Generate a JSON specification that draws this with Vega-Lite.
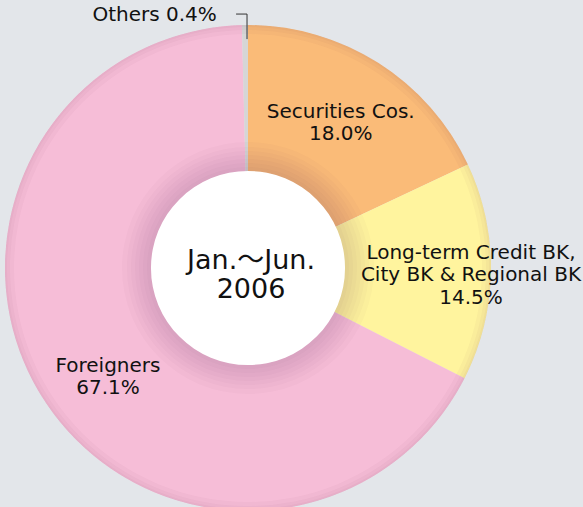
{
  "$schema": "https://vega.github.io/schema/vega-lite/v6.json",
  "width": 496,
  "height": 478,
  "autosize": {"type": "none"},
  "padding": {"left": 0, "top": 29, "right": 87, "bottom": 0},
  "background": "#e3e6ea",
  "config": {"view": {"stroke": null}, "text": {"font": "DejaVu Sans, Noto Sans CJK JP"}},
  "data": {
    "values": [
      {"group": "Securities Cos.", "share": 18.0, "ord": 1, "label": "Securities Cos.\n18.0%"},
      {"group": "Long-term Credit BK, City BK & Regional BK", "share": 14.5, "ord": 2, "label": "Long-term Credit BK,\nCity BK & Regional BK\n14.5%"},
      {"group": "Foreigners", "share": 67.1, "ord": 3, "label": "Foreigners\n67.1%"},
      {"group": "Others", "share": 0.4, "ord": 4, "label": "Others 0.4%"}
    ]
  },
  "layer": [
    {
      "mark": {"type": "arc", "outerRadius": 243, "innerRadius": 0},
      "encoding": {
        "theta": {"field": "share", "type": "quantitative", "stack": true},
        "order": {"field": "ord", "type": "quantitative"},
        "color": {
          "field": "group",
          "type": "nominal",
          "scale": {
            "domain": ["Securities Cos.", "Long-term Credit BK, City BK & Regional BK", "Foreigners", "Others"],
            "range": ["#fabb78", "#fff49e", "#f6bdd7", "#d6d6d6"]
          },
          "legend": null
        }
      }
    },
    {"transform": [{"filter": "datum.ord === 3"}], "mark": {"type": "arc", "theta": 0, "theta2": 6.2832, "outerRadius": 243, "innerRadius": 234, "color": "#6a2a4a", "opacity": 0.03}, "encoding": {}},
    {"transform": [{"filter": "datum.ord === 3"}], "mark": {"type": "arc", "theta": 0, "theta2": 6.2832, "outerRadius": 243, "innerRadius": 238, "color": "#6a2a4a", "opacity": 0.03}, "encoding": {}},
    {"transform": [{"filter": "datum.ord === 3"}], "mark": {"type": "arc", "theta": 0, "theta2": 6.2832, "outerRadius": 243, "innerRadius": 241, "color": "#6a2a4a", "opacity": 0.03}, "encoding": {}},
    {"transform": [{"filter": "datum.ord === 3"}], "mark": {"type": "arc", "theta": 0, "theta2": 6.2832, "outerRadius": 126, "innerRadius": 96, "color": "#6a2a4a", "opacity": 0.024}, "encoding": {}},
    {"transform": [{"filter": "datum.ord === 3"}], "mark": {"type": "arc", "theta": 0, "theta2": 6.2832, "outerRadius": 121, "innerRadius": 96, "color": "#6a2a4a", "opacity": 0.024}, "encoding": {}},
    {"transform": [{"filter": "datum.ord === 3"}], "mark": {"type": "arc", "theta": 0, "theta2": 6.2832, "outerRadius": 117, "innerRadius": 96, "color": "#6a2a4a", "opacity": 0.024}, "encoding": {}},
    {"transform": [{"filter": "datum.ord === 3"}], "mark": {"type": "arc", "theta": 0, "theta2": 6.2832, "outerRadius": 113, "innerRadius": 96, "color": "#6a2a4a", "opacity": 0.024}, "encoding": {}},
    {"transform": [{"filter": "datum.ord === 3"}], "mark": {"type": "arc", "theta": 0, "theta2": 6.2832, "outerRadius": 109, "innerRadius": 96, "color": "#6a2a4a", "opacity": 0.024}, "encoding": {}},
    {"transform": [{"filter": "datum.ord === 3"}], "mark": {"type": "arc", "theta": 0, "theta2": 6.2832, "outerRadius": 105, "innerRadius": 96, "color": "#6a2a4a", "opacity": 0.024}, "encoding": {}},
    {"transform": [{"filter": "datum.ord === 3"}], "mark": {"type": "arc", "theta": 0, "theta2": 6.2832, "outerRadius": 101, "innerRadius": 96, "color": "#6a2a4a", "opacity": 0.024}, "encoding": {}},
    {"transform": [{"filter": "datum.ord === 3"}], "mark": {"type": "arc", "theta": 0, "theta2": 6.2832, "outerRadius": 97, "innerRadius": 0, "color": "#ffffff"}, "encoding": {}},
    {
      "mark": {"type": "text", "radius": 173, "dy": -10, "fontSize": 20, "lineBreak": "\n", "lineHeight": 22, "color": "#111111"},
      "encoding": {
        "theta": {"field": "share", "type": "quantitative", "stack": true},
        "order": {"field": "ord", "type": "quantitative"},
        "text": {"condition": {"test": "datum.ord === 1", "field": "label"}, "value": ""}
      }
    },
    {
      "mark": {"type": "text", "radius": 223, "dy": -19, "fontSize": 20, "lineBreak": "\n", "lineHeight": 22.5, "color": "#111111"},
      "encoding": {
        "theta": {"field": "share", "type": "quantitative", "stack": true},
        "order": {"field": "ord", "type": "quantitative"},
        "text": {"condition": {"test": "datum.ord === 2", "field": "label"}, "value": ""}
      }
    },
    {
      "mark": {"type": "text", "radius": 177, "thetaOffset": -0.096, "dy": -10, "fontSize": 20, "lineBreak": "\n", "lineHeight": 22, "color": "#111111"},
      "encoding": {
        "theta": {"field": "share", "type": "quantitative", "stack": true},
        "order": {"field": "ord", "type": "quantitative"},
        "text": {"condition": {"test": "datum.ord === 3", "field": "label"}, "value": ""}
      }
    },
    {
      "mark": {"type": "text", "radius": 254, "align": "right", "baseline": "middle", "dx": -28, "dy": 1, "fontSize": 20, "color": "#111111"},
      "encoding": {
        "theta": {"field": "share", "type": "quantitative", "stack": true},
        "order": {"field": "ord", "type": "quantitative"},
        "text": {"condition": {"test": "datum.ord === 4", "field": "label"}, "value": ""}
      }
    },
    {
      "data": {"values": [{"t": "Jan.～Jun.\n2006"}]},
      "mark": {"type": "text", "fontSize": 27, "lineBreak": "\n", "lineHeight": 29, "dx": 3, "dy": -7, "color": "#111111"},
      "encoding": {"text": {"field": "t"}}
    },
    {
      "data": {"values": [{"lx": -0.049, "ly": 1.045, "k": 1}, {"lx": -0.004, "ly": 1.045, "k": 2}, {"lx": -0.004, "ly": 0.942, "k": 3}]},
      "mark": {"type": "line", "color": "#333333", "strokeWidth": 1},
      "encoding": {
        "x": {"field": "lx", "type": "quantitative", "scale": {"domain": [-1.0206, 1.0206], "nice": false, "zero": false}, "axis": null},
        "y": {"field": "ly", "type": "quantitative", "scale": {"domain": [-0.9835, 0.9835], "nice": false, "zero": false}, "axis": null},
        "order": {"field": "k", "type": "quantitative"}
      }
    }
  ]
}
